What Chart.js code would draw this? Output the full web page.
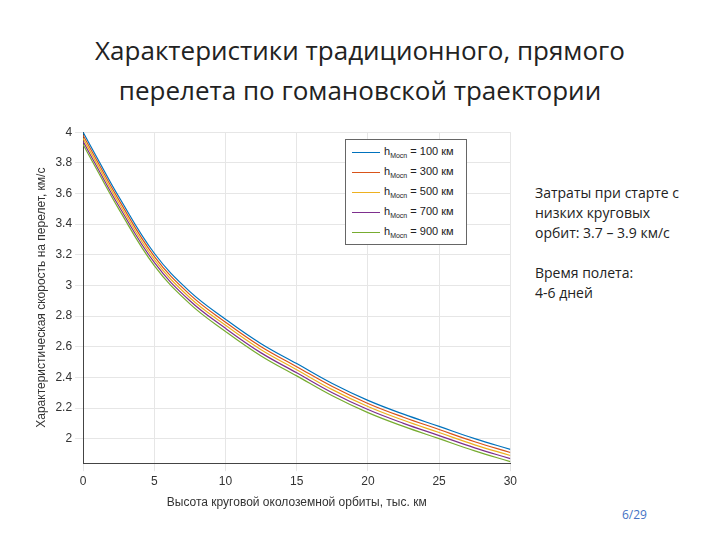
<!DOCTYPE html>
<html><head><meta charset="utf-8">
<script src="https://cdn.jsdelivr.net/npm/chart.js@4"></script>
<style>
body{margin:0;width:720px;height:540px;background:#fff;position:relative;font-family:"Open Sans",sans-serif;overflow:hidden}
#title{position:absolute;top:30px;left:0;width:720px;text-align:center;font-size:26px;line-height:40px;color:#222}
#wrap{position:absolute;left:30px;top:122px;width:490px;height:392px}
#legend{position:absolute;left:345px;top:139px;width:120px;padding:2px 0;border:1px solid #666;background:#fff;font-family:Arial,sans-serif;font-size:11px;color:#222}
#legend div{height:20px;line-height:18px;white-space:nowrap}
#legend span.l{display:inline-block;width:28px;height:1px;vertical-align:middle;margin:0 4px 0 6px}
#legend sub{font-size:7px}
#side{position:absolute;left:535px;top:183px;font-size:14px;line-height:20px;color:#222}
#page{position:absolute;left:622px;top:506px;font-size:12px;color:#4472C4}
</style></head><body>
<div id="title">Характеристики традиционного, прямого<br>перелета по гомановской траектории</div>
<div id="wrap"><canvas id="c"></canvas></div>
<div id="legend"></div>
<div id="side">Затраты при старте с<br>низких круговых<br>орбит: 3.7 – 3.9 км/с<br><br>Время полета:<br>4-6 дней</div>
<div id="page">6/29</div>
<script>
const heights = [0, 1, 2.5, 5, 7.5, 10, 12.5, 15, 17.5, 20, 22.5, 25, 27.5, 30];
const seriesNames = ["100 км", "300 км", "500 км", "700 км", "900 км"];
const dv100 = [4.00, 3.83, 3.58, 3.21, 2.96, 2.78, 2.62, 2.49, 2.36, 2.25, 2.16, 2.08, 2.00, 1.93];
const dv300 = [3.98, 3.81, 3.56, 3.19, 2.94, 2.76, 2.60, 2.47, 2.34, 2.23, 2.14, 2.06, 1.98, 1.91];
const dv500 = [3.96, 3.79, 3.54, 3.17, 2.92, 2.74, 2.58, 2.45, 2.32, 2.21, 2.12, 2.04, 1.96, 1.89];
const dv700 = [3.94, 3.77, 3.52, 3.15, 2.90, 2.72, 2.56, 2.43, 2.30, 2.19, 2.10, 2.02, 1.94, 1.87];
const dv900 = [3.92, 3.75, 3.50, 3.13, 2.88, 2.70, 2.54, 2.41, 2.28, 2.17, 2.08, 2.00, 1.92, 1.85];
const colors = ["#0072BD", "#D95319", "#EDB120", "#7E2F8E", "#77AC30"];
const allSeries = [dv100, dv300, dv500, dv700, dv900];

let leg = document.getElementById("legend");
seriesNames.forEach((n, i) => {
	leg.innerHTML += `<div><span class="l" style="background:${colors[i]}"></span>h<sub>Mocn</sub> = ${n}</div>`;
});

new Chart(document.getElementById("c"), {
	type: "line",
	data: {
		datasets: allSeries.map((s, i) => ({
			label: seriesNames[i],
			data: s.map((v, j) => ({ x: heights[j], y: v })),
			borderColor: colors[i],
			borderWidth: 1.2,
			pointRadius: 0,
			tension: 0.4,
		})),
	},
	options: {
		responsive: true,
		maintainAspectRatio: false,
		animation: false,
		plugins: { legend: { display: false }, tooltip: { enabled: false } },
		scales: {
			x: {
				type: "linear", min: 0, max: 30,
				ticks: { stepSize: 5, color: "#333", font: { family: "Arial", size: 12 } },
				grid: { color: "#e6e6e6" },
				border: { color: "#444" },
				title: { display: true, text: "Высота круговой околоземной орбиты, тыс. км", color: "#333", font: { family: "Arial", size: 12 } },
			},
			y: {
				min: 1.84, max: 4,
				afterBuildTicks: (axis) => {
					axis.ticks = [];
					for (let v = 2; v <= 4.001; v += 0.2) axis.ticks.push({ value: Math.round(v * 10) / 10 });
				},
				ticks: { color: "#333", font: { family: "Arial", size: 12 }, callback: (v) => String(Math.round(v * 10) / 10) },
				grid: { color: "#e6e6e6" },
				border: { color: "#444" },
				title: { display: true, text: "Характеристическая скорость на перелет, км/с", color: "#333", font: { family: "Arial", size: 12 } },
			},
		},
	},
});
</script>
</body></html>
